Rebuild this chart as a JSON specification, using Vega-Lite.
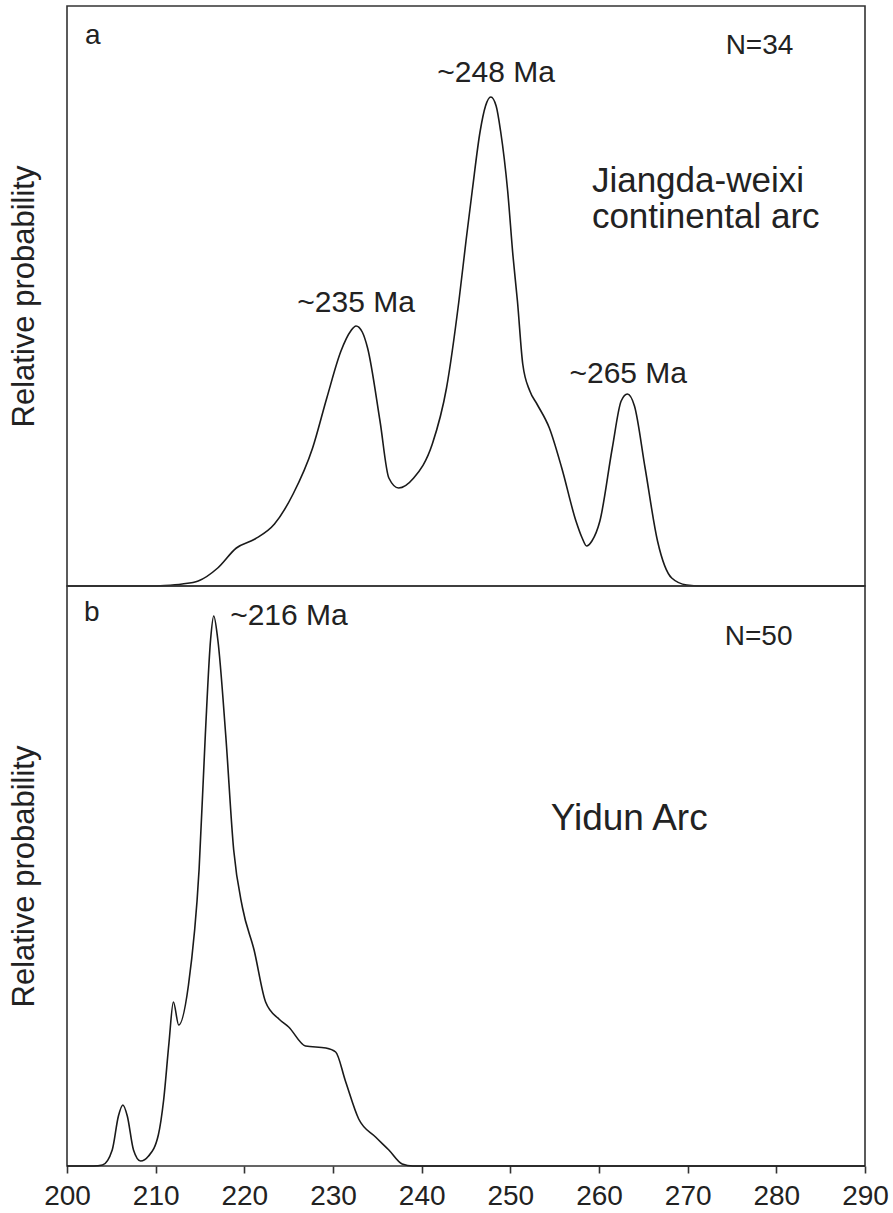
{
  "$schema": "https://vega.github.io/schema/vega-lite/v6.json",
  "autosize": {"type": "pad"},
  "padding": {"left": 7, "top": 5, "right": 5, "bottom": 0},
  "background": "white",
  "spacing": 0,
  "bounds": "flush",
  "config": {
    "view": {"stroke": "#333333", "strokeWidth": 1.6},
    "font": "Liberation Sans",
    "text": {"font": "Liberation Sans", "color": "#222222"}
  },
  "datasets": {
    "curveA": [
      {"age": 200, "p": 0}, {"age": 209.5, "p": 0}, {"age": 211, "p": 0.5}, {"age": 213, "p": 2}, {"age": 214.8, "p": 5},
      {"age": 217, "p": 18}, {"age": 219.1, "p": 38}, {"age": 221.2, "p": 47}, {"age": 223.4, "p": 62},
      {"age": 225.5, "p": 92}, {"age": 227.7, "p": 138}, {"age": 229.3, "p": 188}, {"age": 230.9, "p": 235},
      {"age": 232.0, "p": 255}, {"age": 232.6, "p": 260}, {"age": 233.3, "p": 254}, {"age": 233.9, "p": 238},
      {"age": 235.3, "p": 165}, {"age": 236.3, "p": 108}, {"age": 237.4, "p": 98}, {"age": 239.1, "p": 108},
      {"age": 241.2, "p": 142}, {"age": 242.8, "p": 198}, {"age": 244.2, "p": 285}, {"age": 245.0, "p": 345},
      {"age": 245.7, "p": 395}, {"age": 246.6, "p": 455}, {"age": 247.2, "p": 480}, {"age": 247.8, "p": 489},
      {"age": 248.4, "p": 480}, {"age": 248.9, "p": 455}, {"age": 249.7, "p": 395}, {"age": 250.3, "p": 330},
      {"age": 250.8, "p": 285}, {"age": 251.4, "p": 222}, {"age": 252.2, "p": 195}, {"age": 253.0, "p": 182},
      {"age": 254.4, "p": 158}, {"age": 255.8, "p": 118}, {"age": 257.4, "p": 65}, {"age": 258.1, "p": 48},
      {"age": 258.6, "p": 40}, {"age": 259.2, "p": 45}, {"age": 260.1, "p": 65}, {"age": 261.5, "p": 138},
      {"age": 262.5, "p": 185}, {"age": 263.2, "p": 192}, {"age": 264.0, "p": 180}, {"age": 265.2, "p": 118},
      {"age": 266.6, "p": 45}, {"age": 268.2, "p": 8}, {"age": 269.9, "p": 1}, {"age": 271.5, "p": 0}, {"age": 290, "p": 0}
    ],
    "curveB": [
      {"age": 200, "p": 0}, {"age": 203.0, "p": 0}, {"age": 204.0, "p": 1}, {"age": 205.1, "p": 16}, {"age": 205.8, "p": 50},
      {"age": 206.3, "p": 61}, {"age": 206.8, "p": 50}, {"age": 207.5, "p": 16}, {"age": 208.3, "p": 5},
      {"age": 209.2, "p": 10}, {"age": 210.3, "p": 31}, {"age": 210.9, "p": 66}, {"age": 211.5, "p": 123},
      {"age": 212.0, "p": 164}, {"age": 212.6, "p": 141}, {"age": 213.7, "p": 181}, {"age": 214.9, "p": 297},
      {"age": 215.6, "p": 431}, {"age": 216.2, "p": 527}, {"age": 216.55, "p": 550}, {"age": 217.0, "p": 527},
      {"age": 217.9, "p": 431}, {"age": 218.8, "p": 316}, {"age": 219.8, "p": 258}, {"age": 221.1, "p": 216},
      {"age": 222.4, "p": 164}, {"age": 223.9, "p": 147}, {"age": 225.0, "p": 139}, {"age": 226.9, "p": 120},
      {"age": 229.2, "p": 118}, {"age": 230.3, "p": 114}, {"age": 231.4, "p": 85}, {"age": 232.9, "p": 47},
      {"age": 234.8, "p": 29}, {"age": 236.3, "p": 16}, {"age": 237.8, "p": 2}, {"age": 239.0, "p": 0}, {"age": 290, "p": 0}
    ],
    "ticksB": [
      {"age": 210}, {"age": 220}, {"age": 230}, {"age": 240}, {"age": 250}, {"age": 260}, {"age": 270}, {"age": 280}
    ],
    "labelsA": [
      {"age": 248.4, "p": 513, "label": "~248 Ma"},
      {"age": 232.6, "p": 283, "label": "~235 Ma"},
      {"age": 263.3, "p": 212, "label": "~265 Ma"}
    ],
    "noteA": [
      {"age": 202.9, "p": 550, "label": "a"},
      {"age": 278.1, "p": 540, "label": "N=34"}
    ],
    "titleA": [
      {"age": 259.2, "p": 394, "label": ["Jiangda-weixi", "continental arc"]}
    ],
    "labelsB": [
      {"age": 218.4, "p": 550, "label": "~216 Ma"}
    ],
    "noteB": [
      {"age": 202.8, "p": 553, "label": "b"},
      {"age": 278.0, "p": 529, "label": "N=50"}
    ],
    "titleB": [
      {"age": 263.4, "p": 347, "label": "Yidun Arc"}
    ]
  },
  "vconcat": [
    {
      "width": 798,
      "height": 580,
      "encoding": {
        "x": {"field": "age", "type": "quantitative", "scale": {"domain": [200, 290], "nice": false, "zero": false}, "axis": null},
        "y": {"field": "p", "type": "quantitative", "scale": {"domain": [0, 580], "nice": false},
          "axis": {"title": "Relative probability", "labels": false, "ticks": false, "domain": false, "grid": false,
            "titleFontSize": 31, "titleFontWeight": "normal", "titleColor": "#222222", "titlePadding": 27, "titleFont": "Liberation Sans"}}
      },
      "layer": [
        {"data": {"name": "curveA"}, "mark": {"type": "line", "interpolate": "monotone", "color": "#1a1a1a", "strokeWidth": 1.6}},
        {"data": {"name": "labelsA"}, "mark": {"type": "text", "fontSize": 30, "align": "center", "baseline": "middle"}, "encoding": {"text": {"field": "label"}}},
        {"data": {"name": "noteA"}, "mark": {"type": "text", "fontSize": 28, "align": "center", "baseline": "middle"}, "encoding": {"text": {"field": "label"}}},
        {"data": {"name": "titleA"}, "mark": {"type": "text", "fontSize": 35, "lineHeight": 36, "align": "left", "baseline": "alphabetic"}, "encoding": {"text": {"field": "label"}}}
      ]
    },
    {
      "width": 798,
      "height": 580,
      "encoding": {
        "x": {"field": "age", "type": "quantitative", "scale": {"domain": [200, 290], "nice": false, "zero": false},
          "axis": {"title": null, "values": [200, 210, 220, 230, 240, 250, 260, 270, 280, 290], "grid": false, "domain": false,
            "ticks": true, "tickSize": 7, "tickWidth": 1.6, "tickColor": "#333333", "labelFontSize": 28, "labelColor": "#222222",
            "labelPadding": 9, "labelFlush": false, "labelFont": "Liberation Sans", "labelOverlap": false}},
        "y": {"field": "p", "type": "quantitative", "scale": {"domain": [0, 580], "nice": false},
          "axis": {"title": "Relative probability", "labels": false, "ticks": false, "domain": false, "grid": false,
            "titleFontSize": 31, "titleFontWeight": "normal", "titleColor": "#222222", "titlePadding": 27, "titleFont": "Liberation Sans"}}
      },
      "layer": [
        {"data": {"name": "ticksB"}, "mark": {"type": "rule", "color": "#333333", "strokeWidth": 1.6}, "encoding": {"y": {"datum": 0}, "y2": {"datum": 5}}},
        {"data": {"name": "curveB"}, "mark": {"type": "line", "interpolate": "monotone", "color": "#1a1a1a", "strokeWidth": 1.6}},
        {"data": {"name": "labelsB"}, "mark": {"type": "text", "fontSize": 30, "align": "left", "baseline": "middle"}, "encoding": {"text": {"field": "label"}}},
        {"data": {"name": "noteB"}, "mark": {"type": "text", "fontSize": 28, "align": "center", "baseline": "middle"}, "encoding": {"text": {"field": "label"}}},
        {"data": {"name": "titleB"}, "mark": {"type": "text", "fontSize": 37, "align": "center", "baseline": "middle"}, "encoding": {"text": {"field": "label"}}}
      ]
    }
  ]
}
